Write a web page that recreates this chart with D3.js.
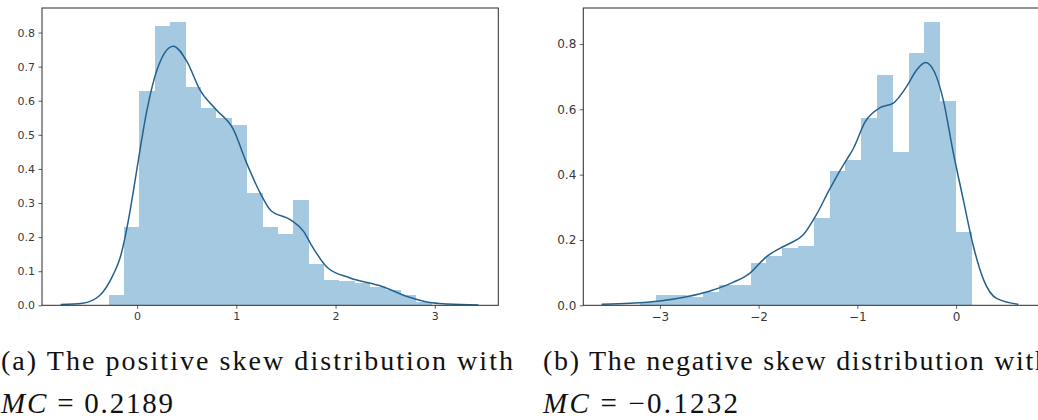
<!DOCTYPE html>
<html>
<head>
<meta charset="utf-8">
<script src="https://cdn.jsdelivr.net/npm/d3@7"></script>
<style>
  html, body { margin: 0; padding: 0; background: #fff; }
  svg { display: block; }
  .tick text { font-family: "DejaVu Sans", sans-serif; fill: #383838; }
  .caption { font-family: "Liberation Serif", "DejaVu Serif", serif; fill: #111; }
</style>
</head>
<body>
<svg id="chart" width="1038" height="420"></svg>
<script>
// ---- Panel (a): positive skew ----
const histStartA = -0.287;   // left edge of first bin
const binWidthA = 0.1551;
const histA = [0.03, 0.23, 0.63, 0.82, 0.83, 0.64, 0.58, 0.55, 0.53, 0.33, 0.23,
               0.21, 0.31, 0.12, 0.074, 0.072, 0.065, 0.055, 0.045, 0.03, 0.01];
const kdeXA = [-0.77, -0.55, -0.38, -0.24, -0.17, -0.1, -0.04, 0.013, 0.1, 0.2, 0.365, 0.5,
               0.635, 0.8, 0.97, 1.1, 1.24, 1.345, 1.55, 1.68, 1.75, 1.92, 2.14, 2.47, 2.73,
               2.95, 3.13, 3.44];
const kdeYA = [0.002, 0.006, 0.028, 0.09, 0.14, 0.23, 0.33, 0.426, 0.573, 0.69, 0.76, 0.716,
               0.631, 0.573, 0.516, 0.42, 0.33, 0.279, 0.25, 0.216, 0.18, 0.11, 0.081, 0.055,
               0.025, 0.008, 0.004, 0.001];
const xTicksA = [0, 1, 2, 3];
const yTicksA = [0, 0.1, 0.2, 0.3, 0.4, 0.5, 0.6, 0.7, 0.8];

// ---- Panel (b): negative skew ----
const histStartB = -3.202;
const binWidthB = 0.1601;
const histB = [0.01, 0.03, 0.03, 0.025, 0.04, 0.062, 0.062, 0.13, 0.15, 0.175, 0.18,
               0.267, 0.41, 0.445, 0.573, 0.705, 0.47, 0.772, 0.866, 0.624, 0.225];
const kdeXB = [-3.59, -3.3, -3.0, -2.73, -2.5, -2.26, -2.09, -1.92, -1.78, -1.68, -1.55,
               -1.41, -1.29, -1.21, -1.11, -1.04, -0.92, -0.77, -0.635, -0.5, -0.4, -0.31,
               -0.22, -0.13, -0.03, 0.074, 0.176, 0.28, 0.41, 0.63];
const kdeYB = [0.003, 0.006, 0.013, 0.026, 0.043, 0.07, 0.098, 0.149, 0.175, 0.19, 0.215,
               0.28, 0.35, 0.394, 0.445, 0.48, 0.562, 0.605, 0.619, 0.67, 0.72, 0.743,
               0.715, 0.629, 0.47, 0.322, 0.18, 0.077, 0.021, 0.003];
const xTicksB = [-3, -2, -1, 0];
const yTicksB = [0, 0.2, 0.4, 0.6, 0.8];

const captionA = ["(a) The positive skew distribution with", "0.2189"];
const captionB = ["(b) The negative skew distribution with", "\u22120.1232"];

const svg = d3.select("#chart");
const barColor = "rgba(31,119,180,0.4)";
const lineColor = "#23628f";

function drawPanel(cfg) {
  const x = d3.scaleLinear().domain(cfg.xDomain).range(cfg.xRange);
  const y = d3.scaleLinear().domain(cfg.yDomain).range([305.3, 8]);
  const g = svg.append("g");

  const clipId = "clip" + cfg.id;
  g.append("clipPath").attr("id", clipId)
    .append("rect")
    .attr("x", cfg.xRange[0]).attr("y", 8)
    .attr("width", cfg.xRange[1] - cfg.xRange[0]).attr("height", 297.3);

  const plot = g.append("g").attr("clip-path", `url(#${clipId})`);

  const bins = cfg.hist.map((h, i) => ({
    x0: cfg.start + i * cfg.width,
    x1: cfg.start + (i + 1) * cfg.width,
    h
  }));
  plot.selectAll("rect.bar").data(bins).enter().append("rect")
    .attr("class", "bar")
    .attr("x", d => x(d.x0))
    .attr("width", d => x(d.x1) - x(d.x0))
    .attr("y", d => y(d.h))
    .attr("height", d => y(0) - y(d.h))
    .attr("shape-rendering", "crispEdges")
    .attr("fill", barColor);

  const pts = cfg.kx.map((v, i) => [v, cfg.ky[i]]);
  const line = d3.line().x(d => x(d[0])).y(d => y(d[1])).curve(d3.curveMonotoneX);
  plot.append("path").attr("d", line(pts))
    .attr("fill", "none").attr("stroke", lineColor).attr("stroke-width", 1.5);

  const fmtY = d3.format(".1f");
  const xAxis = d3.axisBottom(x).tickValues(cfg.xTicks).tickSize(3.5).tickPadding(3.5)
    .tickFormat(d => d < 0 ? "\u2212" + Math.abs(d) : String(d));
  const yAxis = d3.axisLeft(y).tickValues(cfg.yTicks).tickSize(3.5).tickPadding(3.5)
    .tickFormat(fmtY);

  const gx = g.append("g").attr("transform", "translate(0,305.3)").call(xAxis);
  const gy = g.append("g").attr("transform", `translate(${cfg.xRange[0]},0)`).call(yAxis);
  [gx, gy].forEach(a => {
    a.select(".domain").remove();
    a.attr("font-size", null).attr("font-family", null);
    a.selectAll(".tick text").style("font-size", cfg.tickFont + "px");
    a.selectAll(".tick line").attr("stroke", "#333").attr("stroke-width", 0.8);
  });

  g.append("rect")
    .attr("x", cfg.xRange[0]).attr("y", 8)
    .attr("width", cfg.xRange[1] - cfg.xRange[0]).attr("height", 297.3)
    .attr("fill", "none").attr("stroke", "#2a2a2a").attr("stroke-width", 1);
}

drawPanel({
  id: "A", xDomain: [-0.958, 3.64], xRange: [42, 498.3], yDomain: [0, 0.872],
  hist: histA, start: histStartA, width: binWidthA, kx: kdeXA, ky: kdeYA,
  xTicks: xTicksA, yTicks: yTicksA, tickFont: 11
});
drawPanel({
  id: "B", xDomain: [-3.776, 0.84], xRange: [583.3, 1039], yDomain: [0, 0.91],
  hist: histB, start: histStartB, width: binWidthB, kx: kdeXB, ky: kdeYB,
  xTicks: xTicksB, yTicks: yTicksB, tickFont: 12
});

// Sub-figure captions: sized so each line spans its target width,
// with font size capped so glyphs keep a sensible height.
function fitText(sel, width, maxSize) {
  sel.attr("font-size", 20);
  const w = sel.node().getComputedTextLength();
  const size = Math.min(maxSize, 20 * width / w);
  sel.attr("font-size", size);
  sel.attr("textLength", width).attr("lengthAdjust", "spacing");
}
function caption(x0, lines, firstWidth, secondWidth) {
  const t1 = svg.append("text").attr("class", "caption")
    .attr("x", x0).attr("y", 370).text(lines[0]);
  fitText(t1, firstWidth, 28);
  const t2 = svg.append("text").attr("class", "caption").attr("x", x0).attr("y", 413);
  t2.append("tspan").attr("font-style", "italic").text("MC");
  t2.append("tspan").text(" = " + lines[1]);
  fitText(t2, secondWidth, 29);
}
caption(1, captionA, 512, 172);
caption(543, captionB, 506, 195);
</script>
</body>
</html>
